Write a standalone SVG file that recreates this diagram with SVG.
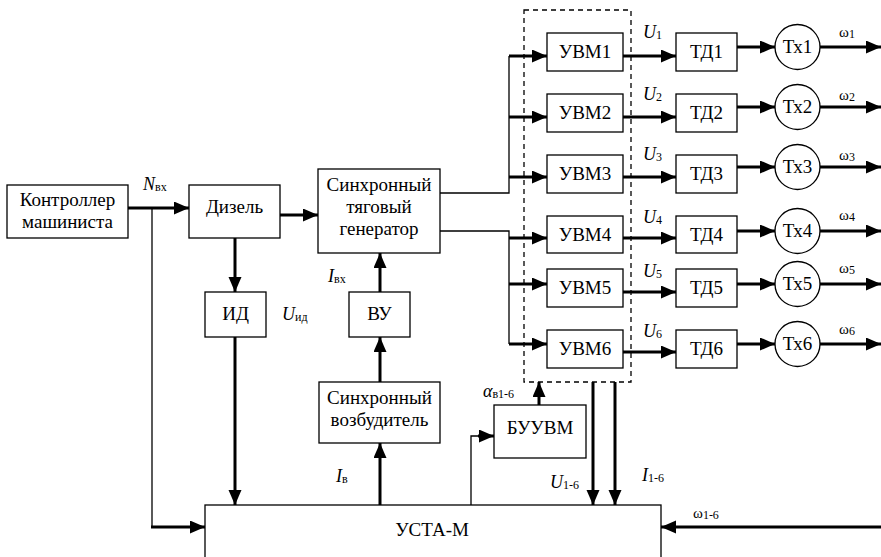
<svg xmlns="http://www.w3.org/2000/svg" width="881" height="557" viewBox="0 0 881 557">
<defs>
<marker id="ah" markerUnits="userSpaceOnUse" markerWidth="16" markerHeight="14" refX="15" refY="6.5" orient="auto">
<path d="M0,0 L15,6.5 L0,13 z" fill="#000" stroke="none"/>
</marker>
</defs>
<rect width="881" height="557" fill="#fff"/>

<g id="connectors" fill="none" stroke="#000" stroke-width="3">
<path marker-end="url(#ah)" d="M128,208 H189"/>
<path stroke-width="1.3" d="M152,208 V527"/>
<path marker-end="url(#ah)" d="M151,527 H205"/>
<path marker-end="url(#ah)" d="M280,215 H318"/>
<path marker-end="url(#ah)" d="M235,238 V292"/>
<path marker-end="url(#ah)" d="M235,337 V505"/>
<path marker-end="url(#ah)" d="M380,292 V253"/>
<path marker-end="url(#ah)" d="M380,382 V337"/>
<path marker-end="url(#ah)" d="M380,505 V443"/>
<path stroke-width="1.3" d="M440,193 H509 V56"/>
<path stroke-width="1.3" d="M440,231 H509 V344"/>
<path marker-end="url(#ah)" d="M509,56 H547"/>
<path marker-end="url(#ah)" d="M509,117 H547"/>
<path marker-end="url(#ah)" d="M509,177 H547"/>
<path marker-end="url(#ah)" d="M509,238 H547"/>
<path marker-end="url(#ah)" d="M509,284 H547"/>
<path marker-end="url(#ah)" d="M509,344 H547"/>
<path marker-end="url(#ah)" d="M623,56 H676"/>
<path marker-end="url(#ah)" d="M623,117 H676"/>
<path marker-end="url(#ah)" d="M623,177 H676"/>
<path marker-end="url(#ah)" d="M623,238 H676"/>
<path marker-end="url(#ah)" d="M623,292 H676"/>
<path marker-end="url(#ah)" d="M623,352 H676"/>
<path marker-end="url(#ah)" d="M737,47 H775"/>
<path marker-end="url(#ah)" d="M737,107 H775"/>
<path marker-end="url(#ah)" d="M737,167 H775"/>
<path marker-end="url(#ah)" d="M737,231 H775"/>
<path marker-end="url(#ah)" d="M737,284 H775"/>
<path marker-end="url(#ah)" d="M737,344 H775"/>
<path marker-end="url(#ah)" d="M820,47 H881"/>
<path marker-end="url(#ah)" d="M820,107 H881"/>
<path marker-end="url(#ah)" d="M820,167 H881"/>
<path marker-end="url(#ah)" d="M820,231 H881"/>
<path marker-end="url(#ah)" d="M820,284 H881"/>
<path marker-end="url(#ah)" d="M820,344 H881"/>
<path stroke-width="1.3" d="M471,505 V436 H480"/>
<path marker-end="url(#ah)" d="M478,436 H494"/>
<path marker-end="url(#ah)" d="M539,405 V382"/>
<path marker-end="url(#ah)" d="M593,382 V505"/>
<path marker-end="url(#ah)" d="M615,382 V505"/>
<path marker-end="url(#ah)" d="M881,527 H661"/>
</g>

<g id="group-uvm">
<rect x="524" y="10" width="107" height="372" fill="none" stroke="#000" stroke-width="1.3" stroke-dasharray="5,4"/>
</g>

<g id="controller">
<rect x="7" y="185" width="121" height="53" fill="#fff" stroke="#000" stroke-width="1.3"/>
<text font-family="Liberation Serif, serif" font-size="19" text-anchor="middle" x="67.5" y="206">Контроллер</text>
<text font-family="Liberation Serif, serif" font-size="19" text-anchor="middle" x="67.5" y="228">машиниста</text>
</g>
<g id="diesel">
<rect x="189" y="185" width="91" height="53" fill="#fff" stroke="#000" stroke-width="1.3"/>
<text font-family="Liberation Serif, serif" font-size="19" text-anchor="middle" x="234.5" y="213">Дизель</text>
</g>
<g id="generator">
<rect x="318" y="169" width="122" height="84" fill="#fff" stroke="#000" stroke-width="1.3"/>
<text font-family="Liberation Serif, serif" font-size="19" text-anchor="middle" x="379" y="191">Синхронный</text>
<text font-family="Liberation Serif, serif" font-size="19" text-anchor="middle" x="379" y="213">тяговый</text>
<text font-family="Liberation Serif, serif" font-size="19" text-anchor="middle" x="379" y="235">генератор</text>
</g>
<g id="id">
<rect x="205" y="292" width="61" height="45" fill="#fff" stroke="#000" stroke-width="1.3"/>
<text font-family="Liberation Serif, serif" font-size="19" text-anchor="middle" x="235.5" y="320">ИД</text>
</g>
<g id="vu">
<rect x="349" y="292" width="61" height="45" fill="#fff" stroke="#000" stroke-width="1.3"/>
<text font-family="Liberation Serif, serif" font-size="19" text-anchor="middle" x="379.5" y="320">ВУ</text>
</g>
<g id="exciter">
<rect x="319" y="382" width="121" height="61" fill="#fff" stroke="#000" stroke-width="1.3"/>
<text font-family="Liberation Serif, serif" font-size="19" text-anchor="middle" x="379.5" y="404">Синхронный</text>
<text font-family="Liberation Serif, serif" font-size="19" text-anchor="middle" x="379.5" y="426">возбудитель</text>
</g>
<g id="buuvm">
<rect x="494" y="405" width="92" height="53" fill="#fff" stroke="#000" stroke-width="1.3"/>
<text font-family="Liberation Serif, serif" font-size="19" text-anchor="middle" x="540" y="434">БУУВМ</text>
</g>
<g id="usta">
<rect x="205" y="505" width="456" height="60" fill="#fff" stroke="#000" stroke-width="1.3"/>
<text font-family="Liberation Serif, serif" font-size="19" text-anchor="middle" x="432" y="536">УСТА-М</text>
</g>

<g id="uvm1"><rect x="547" y="33" width="76" height="38" fill="#fff" stroke="#000" stroke-width="1.3"/><text font-family="Liberation Serif, serif" font-size="19" text-anchor="middle" x="585" y="58">УВМ1</text></g>
<g id="uvm2"><rect x="547" y="94" width="76" height="38" fill="#fff" stroke="#000" stroke-width="1.3"/><text font-family="Liberation Serif, serif" font-size="19" text-anchor="middle" x="585" y="119">УВМ2</text></g>
<g id="uvm3"><rect x="547" y="155" width="76" height="38" fill="#fff" stroke="#000" stroke-width="1.3"/><text font-family="Liberation Serif, serif" font-size="19" text-anchor="middle" x="585" y="180">УВМ3</text></g>
<g id="uvm4"><rect x="547" y="216" width="76" height="37" fill="#fff" stroke="#000" stroke-width="1.3"/><text font-family="Liberation Serif, serif" font-size="19" text-anchor="middle" x="585" y="240.5">УВМ4</text></g>
<g id="uvm5"><rect x="547" y="269" width="76" height="38" fill="#fff" stroke="#000" stroke-width="1.3"/><text font-family="Liberation Serif, serif" font-size="19" text-anchor="middle" x="585" y="294">УВМ5</text></g>
<g id="uvm6"><rect x="547" y="330" width="76" height="38" fill="#fff" stroke="#000" stroke-width="1.3"/><text font-family="Liberation Serif, serif" font-size="19" text-anchor="middle" x="585" y="355">УВМ6</text></g>

<g id="td1"><rect x="676" y="33" width="61" height="38" fill="#fff" stroke="#000" stroke-width="1.3"/><text font-family="Liberation Serif, serif" font-size="19" text-anchor="middle" x="706.5" y="58">ТД1</text></g>
<g id="td2"><rect x="676" y="94" width="61" height="38" fill="#fff" stroke="#000" stroke-width="1.3"/><text font-family="Liberation Serif, serif" font-size="19" text-anchor="middle" x="706.5" y="119">ТД2</text></g>
<g id="td3"><rect x="676" y="155" width="61" height="38" fill="#fff" stroke="#000" stroke-width="1.3"/><text font-family="Liberation Serif, serif" font-size="19" text-anchor="middle" x="706.5" y="180">ТД3</text></g>
<g id="td4"><rect x="676" y="216" width="61" height="37" fill="#fff" stroke="#000" stroke-width="1.3"/><text font-family="Liberation Serif, serif" font-size="19" text-anchor="middle" x="706.5" y="240.5">ТД4</text></g>
<g id="td5"><rect x="676" y="269" width="61" height="38" fill="#fff" stroke="#000" stroke-width="1.3"/><text font-family="Liberation Serif, serif" font-size="19" text-anchor="middle" x="706.5" y="294">ТД5</text></g>
<g id="td6"><rect x="676" y="330" width="61" height="38" fill="#fff" stroke="#000" stroke-width="1.3"/><text font-family="Liberation Serif, serif" font-size="19" text-anchor="middle" x="706.5" y="355">ТД6</text></g>

<g id="tx1"><circle cx="797.5" cy="47" r="22.5" fill="#fff" stroke="#000" stroke-width="1.3"/><text font-family="Liberation Serif, serif" font-size="19" text-anchor="middle" x="797.5" y="53">Тх1</text></g>
<g id="tx2"><circle cx="797.5" cy="107" r="22.5" fill="#fff" stroke="#000" stroke-width="1.3"/><text font-family="Liberation Serif, serif" font-size="19" text-anchor="middle" x="797.5" y="113">Тх2</text></g>
<g id="tx3"><circle cx="797.5" cy="167" r="22.5" fill="#fff" stroke="#000" stroke-width="1.3"/><text font-family="Liberation Serif, serif" font-size="19" text-anchor="middle" x="797.5" y="173">Тх3</text></g>
<g id="tx4"><circle cx="797.5" cy="231" r="22.5" fill="#fff" stroke="#000" stroke-width="1.3"/><text font-family="Liberation Serif, serif" font-size="19" text-anchor="middle" x="797.5" y="237">Тх4</text></g>
<g id="tx5"><circle cx="797.5" cy="284" r="22.5" fill="#fff" stroke="#000" stroke-width="1.3"/><text font-family="Liberation Serif, serif" font-size="19" text-anchor="middle" x="797.5" y="290">Тх5</text></g>
<g id="tx6"><circle cx="797.5" cy="344" r="22.5" fill="#fff" stroke="#000" stroke-width="1.3"/><text font-family="Liberation Serif, serif" font-size="19" text-anchor="middle" x="797.5" y="350">Тх6</text></g>

<g id="labels">
<text font-family="Liberation Serif, serif" font-size="18" x="143" y="190"><tspan font-style="italic">N</tspan><tspan font-size="12" dy="1">вх</tspan></text>
<text font-family="Liberation Serif, serif" font-size="18" x="282" y="320"><tspan font-style="italic">U</tspan><tspan font-size="12" dy="1">ид</tspan></text>
<text font-family="Liberation Serif, serif" font-size="18" x="328" y="282"><tspan font-style="italic">I</tspan><tspan font-size="12" dy="1">вх</tspan></text>
<text font-family="Liberation Serif, serif" font-size="18" x="336" y="482"><tspan font-style="italic">I</tspan><tspan font-size="12" dy="1">в</tspan></text>
<text font-family="Liberation Serif, serif" font-size="18" x="483" y="397"><tspan font-style="italic">α</tspan><tspan font-size="12" dy="1">в1-6</tspan></text>
<text font-family="Liberation Serif, serif" font-size="18" x="550" y="488"><tspan font-style="italic">U</tspan><tspan font-size="12" dy="1">1-6</tspan></text>
<text font-family="Liberation Serif, serif" font-size="18" x="642" y="481"><tspan font-style="italic">I</tspan><tspan font-size="12" dy="1">1-6</tspan></text>
<text font-family="Liberation Serif, serif" font-size="15" x="693" y="518">ω<tspan font-size="12" dy="1">1-6</tspan></text>
<text font-family="Liberation Serif, serif" font-size="18" x="643" y="38"><tspan font-style="italic">U</tspan><tspan font-size="12" dy="1">1</tspan></text>
<text font-family="Liberation Serif, serif" font-size="18" x="643" y="100"><tspan font-style="italic">U</tspan><tspan font-size="12" dy="1">2</tspan></text>
<text font-family="Liberation Serif, serif" font-size="18" x="643" y="160"><tspan font-style="italic">U</tspan><tspan font-size="12" dy="1">3</tspan></text>
<text font-family="Liberation Serif, serif" font-size="18" x="643" y="223"><tspan font-style="italic">U</tspan><tspan font-size="12" dy="1">4</tspan></text>
<text font-family="Liberation Serif, serif" font-size="18" x="643" y="277"><tspan font-style="italic">U</tspan><tspan font-size="12" dy="1">5</tspan></text>
<text font-family="Liberation Serif, serif" font-size="18" x="643" y="337"><tspan font-style="italic">U</tspan><tspan font-size="12" dy="1">6</tspan></text>
<text font-family="Liberation Serif, serif" font-size="15" x="839" y="37">ω<tspan font-size="12" dy="1">1</tspan></text>
<text font-family="Liberation Serif, serif" font-size="15" x="839" y="100">ω<tspan font-size="12" dy="1">2</tspan></text>
<text font-family="Liberation Serif, serif" font-size="15" x="839" y="160">ω<tspan font-size="12" dy="1">3</tspan></text>
<text font-family="Liberation Serif, serif" font-size="15" x="839" y="220">ω<tspan font-size="12" dy="1">4</tspan></text>
<text font-family="Liberation Serif, serif" font-size="15" x="839" y="273">ω<tspan font-size="12" dy="1">5</tspan></text>
<text font-family="Liberation Serif, serif" font-size="15" x="839" y="334">ω<tspan font-size="12" dy="1">6</tspan></text>
</g>
</svg>
